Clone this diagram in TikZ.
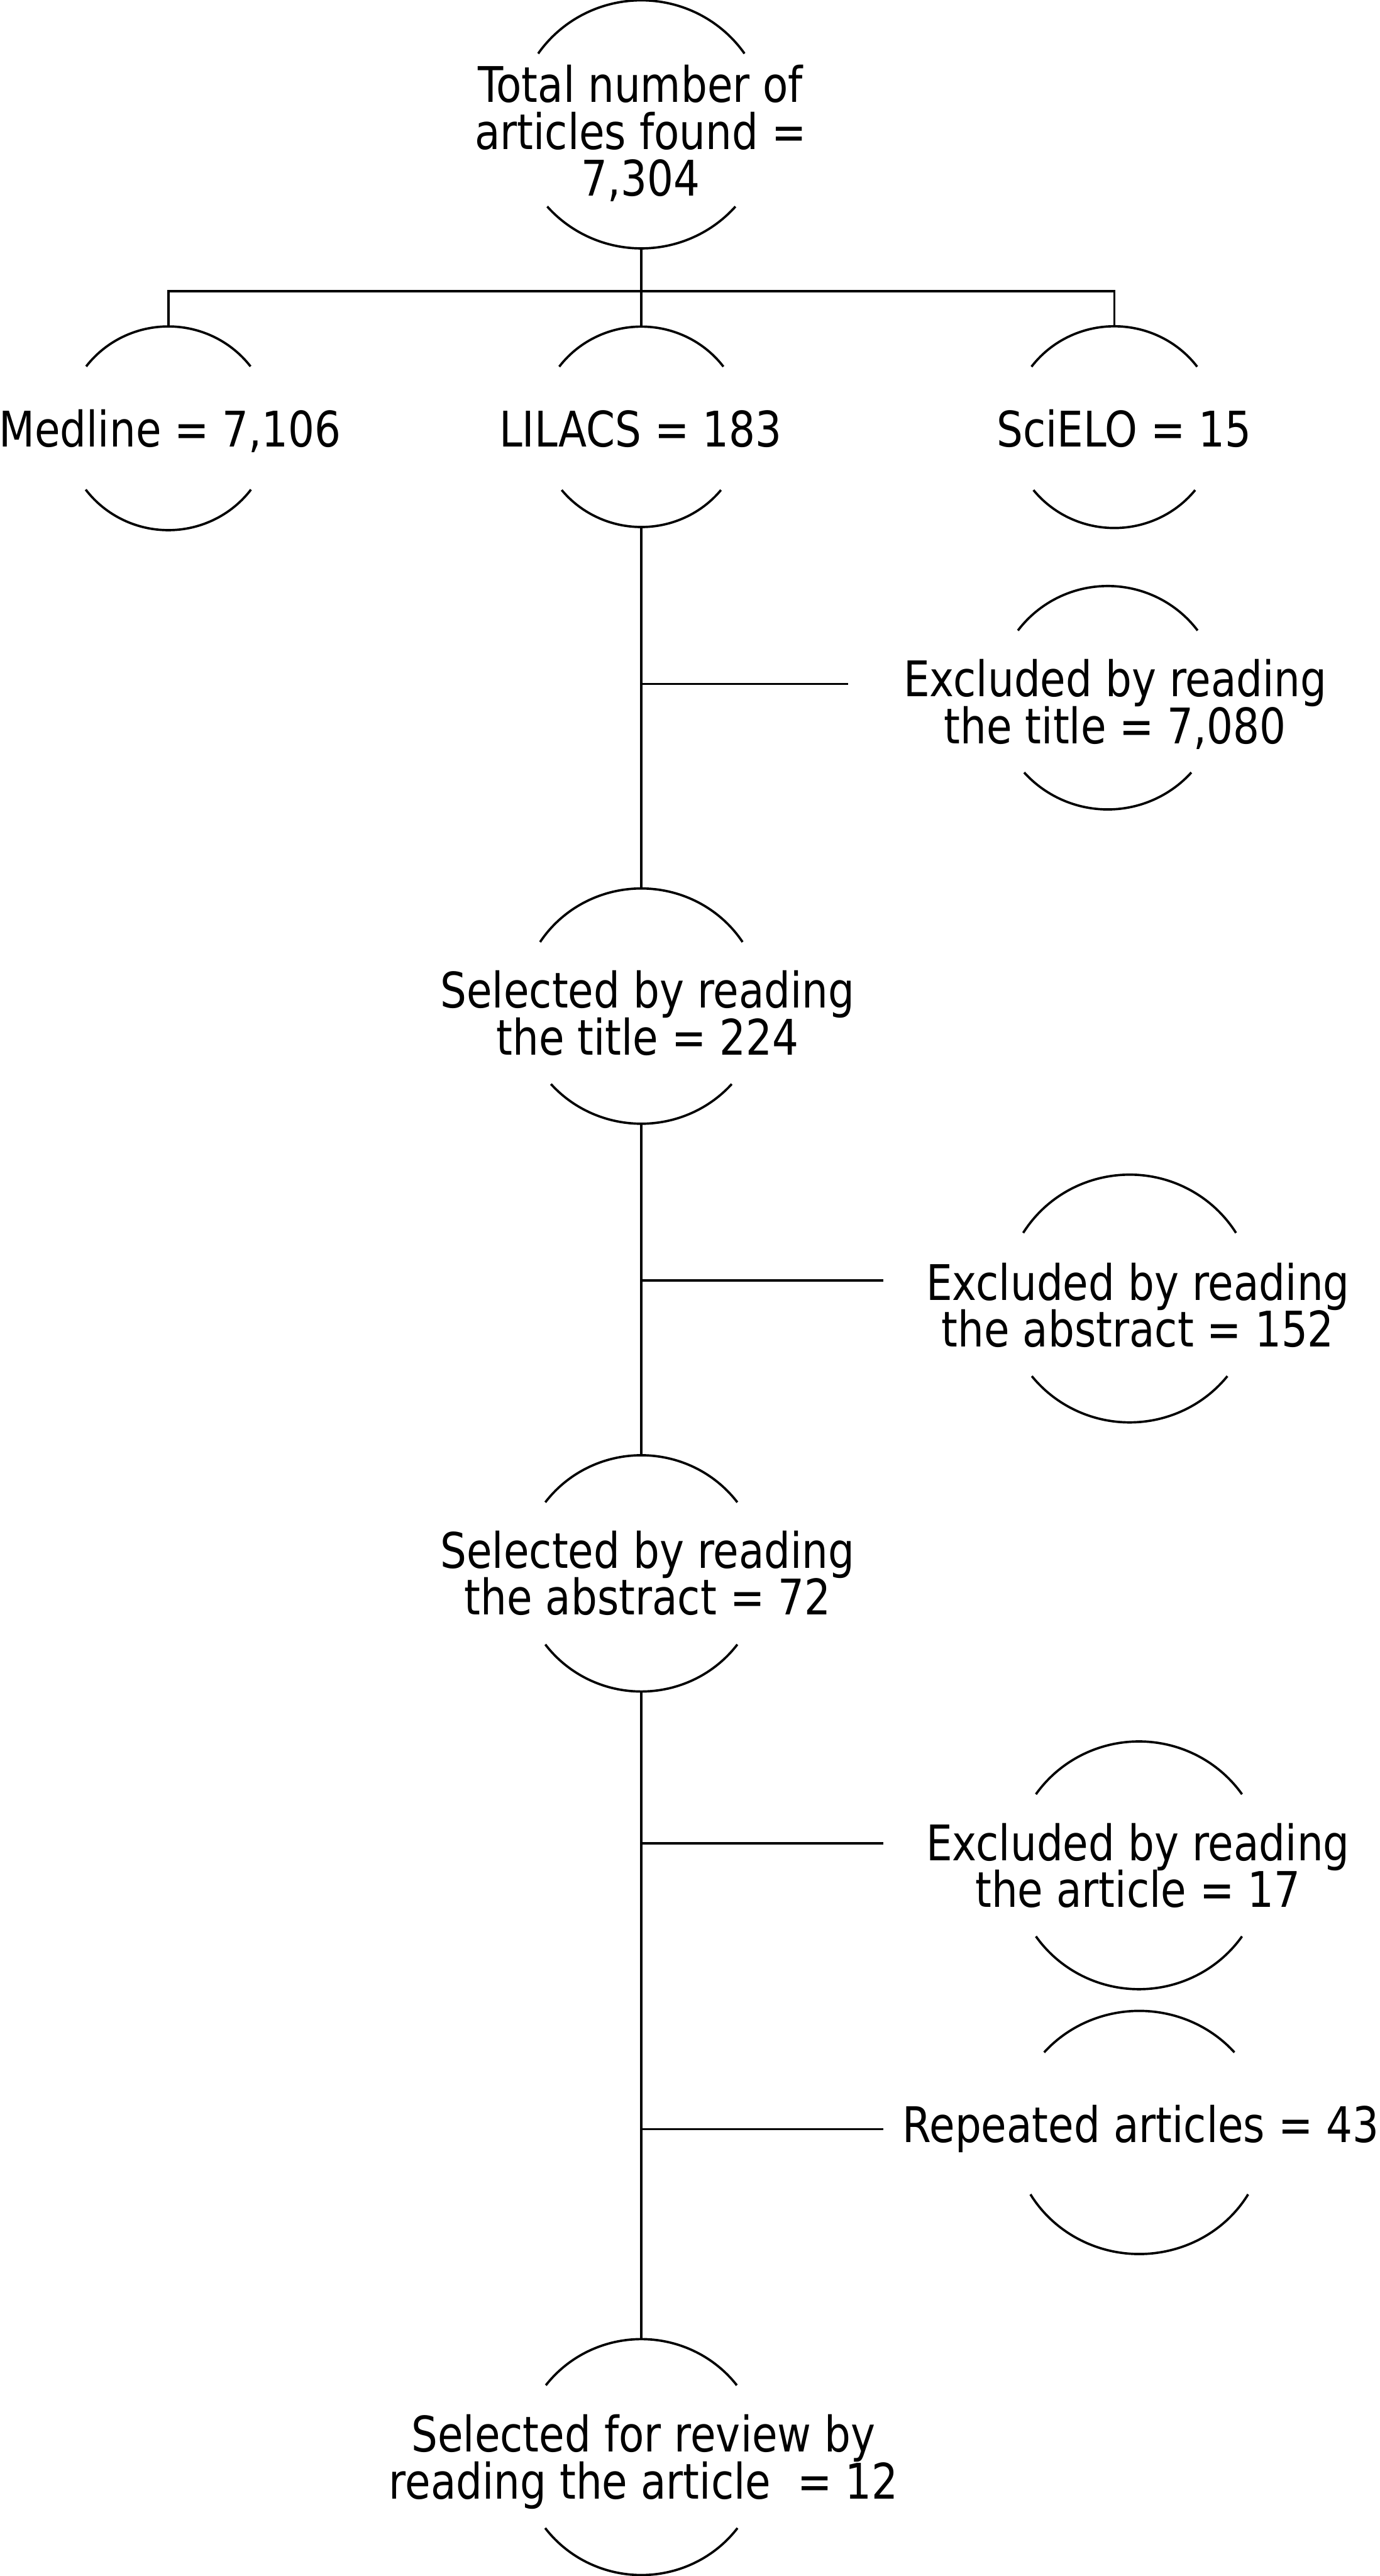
\documentclass[tikz,border=0pt]{standalone}
\usepackage{fontspec}
\setmainfont{DejaVu Sans}[FakeStretch=0.845]
\usetikzlibrary{shapes.geometric}
\lineskiplimit=-100pt
\newcommand{\tp}{\rule{0pt}{0.76em}}
\newcommand{\bt}{\rule[-0.24em]{0pt}{0.24em}}
% #1 node, #2 x radius, #3 y radius, #4 top cut angle, #5 bottom cut angle
\newcommand{\cutarcs}[5]{%
  \draw[arcline, shift={(#1.center)}] ({-180+#4}:#2 and #3) arc[start angle={-180+#4}, end angle={-#4}, x radius=#2, y radius=#3];
  \draw[arcline, shift={(#1.center)}] ({#5}:#2 and #3) arc[start angle={#5}, end angle={180-#5}, x radius=#2, y radius=#3];}
\begin{document}
\lineskiplimit=-100pt
\begin{tikzpicture}[x=0.05cm, y=-0.05cm,
  geo/.style={ellipse, inner sep=0pt, outer sep=0pt, draw=none},
  txt/.style={align=center, inner sep=0pt, outer sep=0pt, text=black,
    font=\fontsize{42.5}{40.6}\selectfont},
  arcline/.style={draw=black, line width=2pt},
  conn/.style={draw=black, line width=2pt}]
\useasboundingbox (0,0) rectangle (840,1568);

% geometry of the cut ellipses
\node[geo, minimum width=7.65cm, minimum height=7.55cm] (tot)  at (390.5,75.7) {};
\node[geo, minimum width=6.3cm,  minimum height=6.2cm]  (med)  at (102.5,260.7) {};
\node[geo, minimum width=6.25cm, minimum height=6.1cm]  (lil)  at (390.5,259.8) {};
\node[geo, minimum width=6.3cm,  minimum height=6.14cm] (sci)  at (678.5,260) {};
\node[geo, minimum width=6.85cm, minimum height=6.8cm]  (ext)  at (674.5,424.7) {};
\node[geo, minimum width=7.35cm, minimum height=7.16cm] (selt) at (390.5,612.4) {};
\node[geo, minimum width=7.64cm, minimum height=7.54cm] (exa)  at (687.8,790.4) {};
\node[geo, minimum width=7.32cm, minimum height=7.19cm] (sela) at (390.5,957.7) {};
\node[geo, minimum width=7.66cm, minimum height=7.54cm] (exr)  at (693.5,1135.4) {};
\node[geo, minimum width=7.7cm,  minimum height=7.4cm]  (rep)  at (693.7,1298) {};
\node[geo, minimum width=7.33cm, minimum height=7.18cm] (fin)  at (390.5,1495.6) {};

\cutarcs{tot}{76.5}{75.5}{34.8}{41.5}
\cutarcs{med}{63}{62}{37.4}{37}
\cutarcs{lil}{62.5}{61}{36.9}{39.1}
\cutarcs{sci}{63}{61.4}{36.8}{38.6}
\cutarcs{ext}{68.5}{68}{37}{42}
\cutarcs{selt}{73.5}{71.6}{33}{41.5}
\cutarcs{exa}{76.4}{75.4}{32}{38.8}
\cutarcs{sela}{73.2}{71.9}{37}{37}
\cutarcs{exr}{76.6}{75.4}{35}{35}
\cutarcs{rep}{77}{74}{41.2}{30.6}
\cutarcs{fin}{73.3}{71.8}{37.5}{37}

% texts
\node[txt] (totT)  at (390,83.0)    {\tp Total number of\\articles found =\\7,304\bt};
\node[txt] (medT)  at (103.5,264.2) {\tp Medline = 7,106\bt};
\node[txt] (lilT)  at (390,264.2)   {\tp LILACS = 183\bt};
\node[txt] (sciT)  at (684.5,264.2) {\tp SciELO = 15\bt};
\node[txt] (extT)  at (679,430.6)   {\tp Excluded by reading\\the title = 7,080\bt};
\node[txt] (seltT) at (394.3,620.1) {\tp Selected by reading\\the title = 224\bt};
\node[txt] (exaT)  at (692.8,797.9) {\tp Excluded by reading\\the abstract = 152\bt};
\node[txt] (selaT) at (394.3,961)   {\tp Selected by reading\\the abstract = 72\bt};
\node[txt] (exrT)  at (692.8,1139)  {\tp Excluded by reading\\the article = 17\bt};
\node[txt] (repT)  at (694.6,1296.2){\tp Repeated articles = 43\bt};
\node[txt] (finT)  at (391.8,1499)  {\tp Selected for review by\\reading the article~ = 12\bt};

% connectors
\coordinate (bar) at (390.5,177.3);
\draw[conn] (tot.south) -- (lil.north);
\draw[conn] (med.north) -- (med.north |- bar) -- (sci.north |- bar) -- (sci.north);
\draw[conn] (lil.south) -- (selt.north);
\draw[conn] (selt.south) -- (sela.north);
\draw[conn] (sela.south) -- (fin.north);

\coordinate (j1) at (390.5,416.3);  \coordinate (k1) at (516.4,416.3);
\coordinate (j2) at (390.5,779.4);  \coordinate (k2) at (537.7,779.4);
\coordinate (j3) at (390.5,1122);   \coordinate (k3) at (537.8,1122);
\coordinate (j4) at (390.5,1296);   \coordinate (k4) at (537.9,1296);
\draw[conn] (j1) -- (k1);
\draw[conn] (j2) -- (k2);
\draw[conn] (j3) -- (k3);
\draw[conn] (j4) -- (k4);
\end{tikzpicture}
\end{document}
